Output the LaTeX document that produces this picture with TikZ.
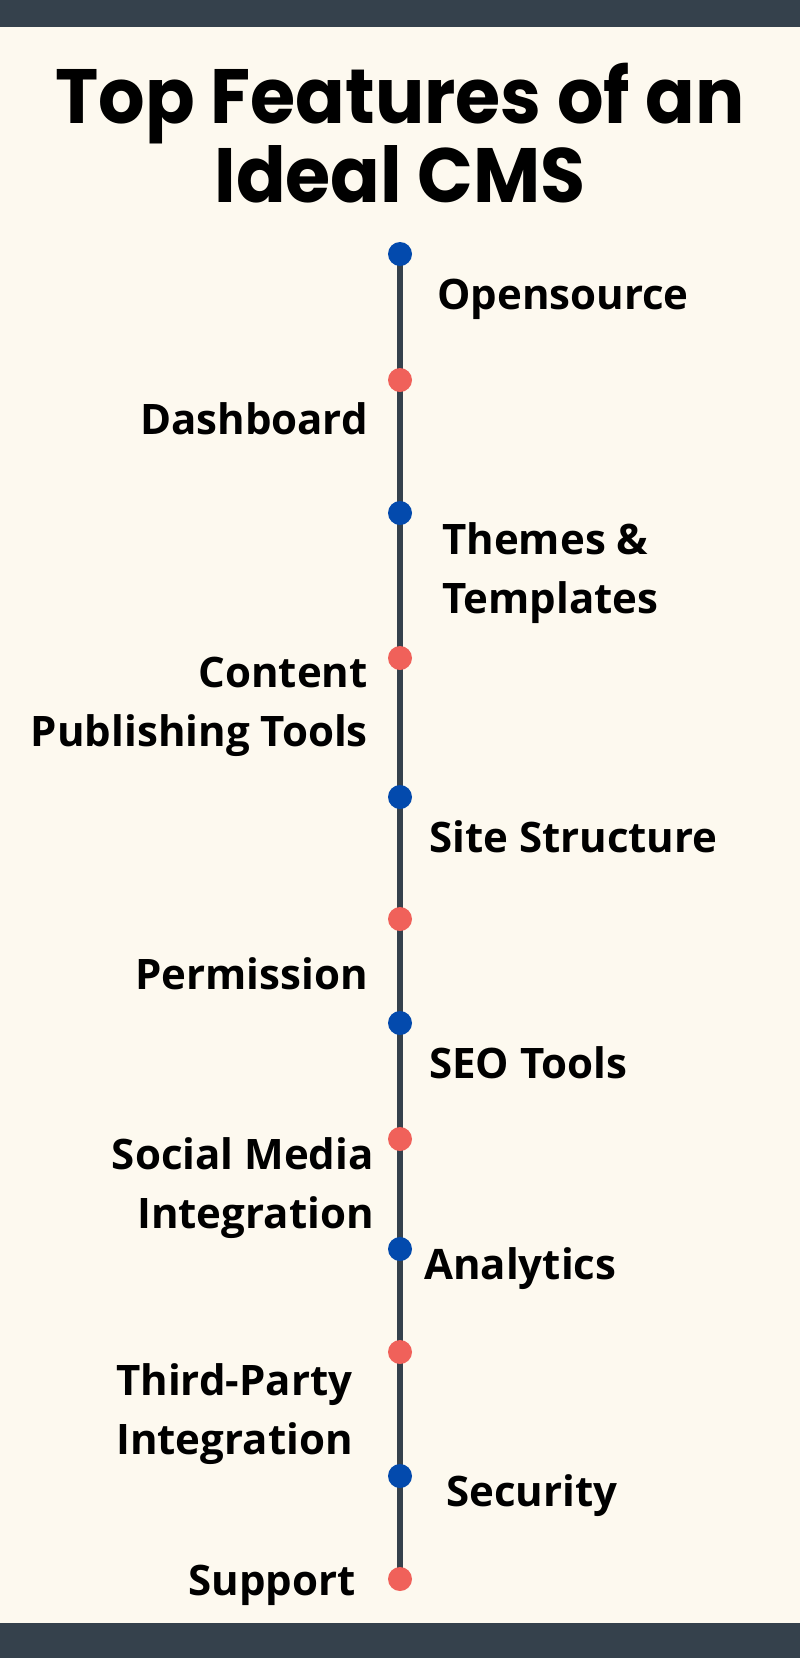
\documentclass[tikz,border=0pt]{standalone}
\usepackage{fontspec}
\newfontfamily\titlefont{Poppins}[FakeStretch=0.95]
\newfontfamily\itemfont{Open Sans}
\definecolor{cream}{HTML}{FDF9EF}
\definecolor{slate}{HTML}{35414C}
\definecolor{dotblue}{HTML}{034AAD}
\definecolor{dotred}{HTML}{F0615A}
\pgfdeclarelayer{back}
\pgfsetlayers{back,main}
\tikzset{
  dot/.style={circle,inner sep=0pt,minimum size=24pt},
  spine/.style={line width=6.5pt,draw=slate},
  item/.style={inner sep=0pt,font=\itemfont\bfseries\fontsize{42}{58.5}\selectfont},
  itemr/.style={item,anchor=base west,align=left},
  iteml/.style={item,anchor=base east,align=right},
}
\begin{document}
\begin{tikzpicture}[x=1pt,y=-1pt]
  \useasboundingbox (0,0) rectangle (800,1658);
  \begin{pgfonlayer}{back}
    \fill[cream] (0,0) rectangle (800,1658);
    \fill[slate] (0,0) rectangle (800,27);
    \fill[slate] (0,1623) rectangle (800,1658);
  \end{pgfonlayer}
  % title (base = last line)
  \node[font=\titlefont\bfseries\fontsize{77}{70}\selectfont,align=center,inner sep=0pt,anchor=base] (title) at (400,202)
    {Top Features of an\\Ideal CMS};
  % timeline dots
  \foreach \y/\c [count=\i] in {254/dotblue,380/dotred,513/dotblue,658/dotred,797/dotblue,919/dotred,
      1023/dotblue,1139/dotred,1249/dotblue,1352/dotred,1476/dotblue,1579/dotred}
    \node[dot,fill=\c] (d\i) at (400,\y) {};
  \begin{pgfonlayer}{back}
    \draw[spine] (d1.center) -- (d12.center);
  \end{pgfonlayer}
  % features (two-line labels sit on their last line)
  \node[itemr] (l1) at (437,309) {Opensource};
  \node[iteml] (l2) at (368,434) {Dashboard};
  \node[itemr] (l3) at (442,613) {Themes \&\\Templates};
  \node[iteml] (l4) at (368,746) {Content\\Publishing Tools};
  \node[itemr] (l5) at (429,852) {Site Structure};
  \node[iteml] (l6) at (368,989) {Permission};
  \node[itemr] (l7) at (429,1078) {SEO Tools};
  \node[iteml] (l8) at (374,1228) {Social Media\\Integration};
  \node[itemr] (l9) at (424,1279) {Analytics};
  \node[itemr] (l10) at (116,1454) {Third-Party\\Integration};
  \node[itemr] (l11) at (446,1506) {Security};
  \node[iteml] (l12) at (356,1595) {Support};
\end{tikzpicture}
\end{document}
